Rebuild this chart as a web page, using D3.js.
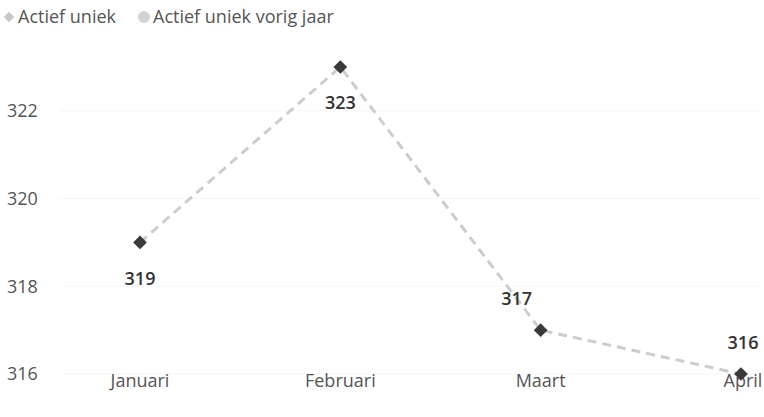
<!DOCTYPE html>
<html lang="en">
<head>
  <meta charset="UTF-8">
  <title>Actief uniek</title>
  <script src="https://d3js.org/d3.v7.min.js"></script>
  <style>
    body { margin: 0; background: #fff; }
    .tick-label { fill: #555; font-family: 'Open Sans', sans-serif; font-size: 18px; }
    .data-label { fill: #333; font-family: 'Open Sans', sans-serif; font-size: 18px; font-weight: 600; text-anchor: middle; }
    .legend { fill: #555; font-family: 'Open Sans', sans-serif; font-size: 18px; }
  </style>
</head>
<body>
  <div id="chart"></div>
  <script>
    // data
    const months = ['Januari', 'Februari', 'Maart', 'April'];
    const actiefUniek = [319, 323, 317, 316];
    const yTicks = [316, 318, 320, 322];
    const labelPos = ['below', 'below', 'above', 'above'];

    const width = 764, height = 417;

    const svg = d3.select('#chart').append('svg')
      .attr('width', width)
      .attr('height', height);

    const x = d3.scalePoint().domain(months).range([140, 741]);
    const y = d3.scaleLinear().domain([316, 323]).range([374, 67]);

    // faint gridlines
    svg.selectAll('.grid')
      .data(yTicks)
      .enter().append('line')
      .attr('x1', 60).attr('x2', 760)
      .attr('y1', d => y(d)).attr('y2', d => y(d))
      .attr('stroke', '#f6f6f6').attr('stroke-width', 1);

    // y tick labels
    svg.selectAll('.ytick')
      .data(yTicks)
      .enter().append('text')
      .attr('class', 'tick-label')
      .attr('x', 7)
      .attr('y', d => y(d))
      .attr('dy', '0.35em')
      .text(d => d);

    // x labels
    svg.selectAll('.xtick')
      .data(months)
      .enter().append('text')
      .attr('class', 'tick-label')
      .attr('x', d => x(d) + (d === 'April' ? 2 : 0))
      .attr('y', 381)
      .attr('dy', '0.35em')
      .attr('text-anchor', 'middle')
      .text(d => d);

    const points = months.map((m, i) => ({ m, v: actiefUniek[i], pos: labelPos[i] }));

    // dashed line
    svg.append('path')
      .datum(points)
      .attr('fill', 'none')
      .attr('stroke', '#cdcdcd')
      .attr('stroke-width', 3)
      .attr('stroke-dasharray', '9,6')
      .attr('d', d3.line().x(d => x(d.m)).y(d => y(d.v)));

    // markers
    svg.selectAll('.marker')
      .data(points)
      .enter().append('path')
      .attr('d', d3.symbol().type(d3.symbolDiamond2).size(120))
      .attr('transform', d => `translate(${x(d.m)},${y(d.v)})`)
      .attr('fill', '#3a3a3a');

    // data labels (Maart label sits a bit to the left of its point)
    svg.selectAll('.data-label')
      .data(points)
      .enter().append('text')
      .attr('class', 'data-label')
      .attr('x', d => x(d.m) + (d.m === 'Maart' ? -24 : d.m === 'April' ? 2 : 0))
      .attr('y', d => y(d.v) + (d.pos === 'below' ? 36 : -31))
      .attr('dy', '0.35em')
      .text(d => d.v);

    // legend
    const legend = svg.append('g');
    legend.append('path')
      .attr('d', d3.symbol().type(d3.symbolDiamond2).size(70))
      .attr('transform', 'translate(9,17)')
      .attr('fill', '#c8c8c8');
    legend.append('text').attr('class', 'legend').attr('x', 18).attr('y', 17).attr('dy', '0.35em').text('Actief uniek');
    legend.append('circle').attr('cx', 144).attr('cy', 17).attr('r', 6).attr('fill', '#d4d4d4');
    legend.append('text').attr('class', 'legend').attr('x', 153).attr('y', 17).attr('dy', '0.35em').text('Actief uniek vorig jaar');
  </script>
</body>
</html>
